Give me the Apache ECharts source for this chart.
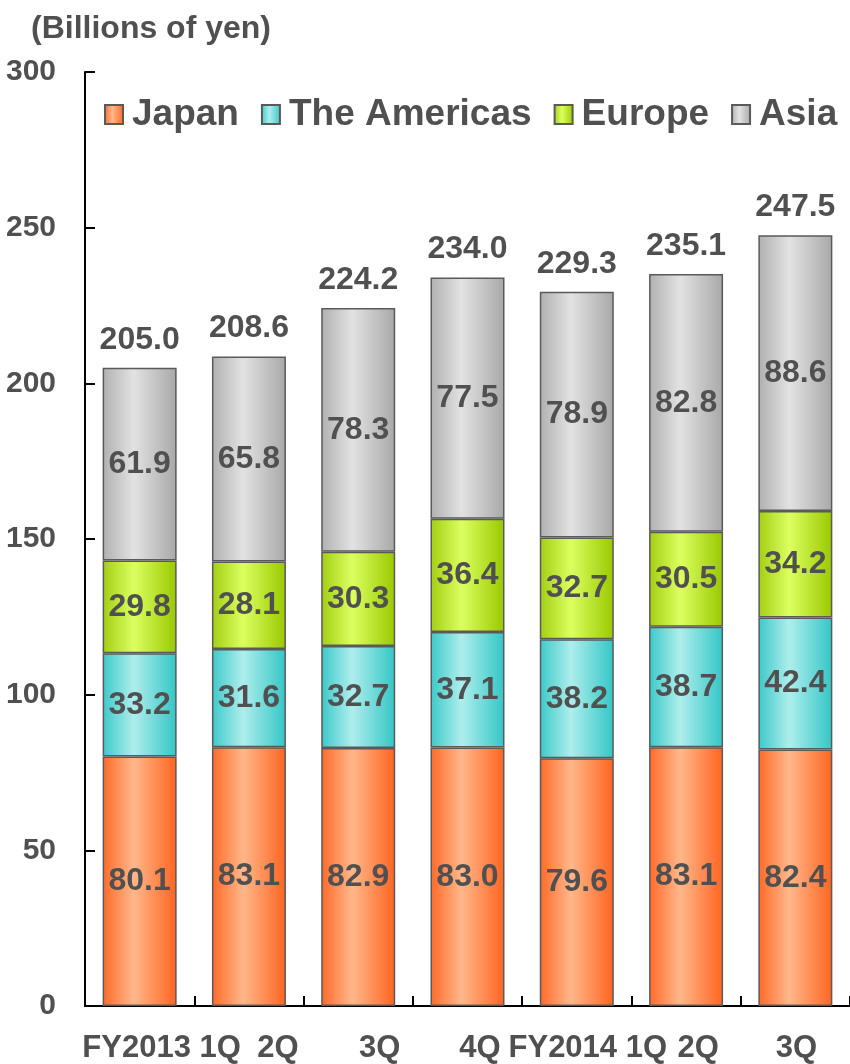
<!DOCTYPE html>
<html>
<head>
<meta charset="utf-8">
<script src="https://cdn.jsdelivr.net/npm/echarts@6/dist/echarts.min.js"></script>
<style>html,body{margin:0;padding:0;background:#fff}#c{width:850px;height:1064px}</style>
</head>
<body>
<div id="c"></div>
<script>
var categories = ['FY2013 1Q', '2Q', '3Q', '4Q', 'FY2014 1Q', '2Q', '3Q'];
var japan = [80.1, 83.1, 82.9, 83.0, 79.6, 83.1, 82.4];
var americas = [33.2, 31.6, 32.7, 37.1, 38.2, 38.7, 42.4];
var europe = [29.8, 28.1, 30.3, 36.4, 32.7, 30.5, 34.2];
var asia = [61.9, 65.8, 78.3, 77.5, 78.9, 82.8, 88.6];
var totals = [205.0, 208.6, 224.2, 234.0, 229.3, 235.1, 247.5];
var yTicks = [0, 50, 100, 150, 200, 250, 300];

var FONT = '"Liberation Sans", Arial, sans-serif';
var TXT = '#505050';
var labelShift = [44, 58, 43, 25, 22, 24, 2];

function grad(a, b, c) {
  return new echarts.graphic.LinearGradient(0, 0, 1, 0, [
    {offset: 0, color: a}, {offset: 0.42, color: b}, {offset: 1, color: c}
  ]);
}

function seg(name, data, color) {
  return {
    name: name, type: 'bar', stack: 'all', data: data, barWidth: 74,
    itemStyle: {color: color, borderColor: '#5a5a5a', borderWidth: 1.5},
    label: {show: true, position: 'inside', fontFamily: FONT, fontWeight: 'bold',
      fontSize: 32, color: TXT, formatter: function (p) { return p.value.toFixed(1); }},
    emphasis: {disabled: true}
  };
}

var rich = {};
labelShift.forEach(function (s, i) {
  rich['s' + i] = {padding: [0, 0, 0, s], fontFamily: FONT, fontWeight: 'bold', fontSize: 31, color: TXT};
});

var chart = echarts.init(document.getElementById('c'), null, {renderer: 'canvas'});
chart.setOption({
  animation: false,
  backgroundColor: '#fff',
  title: {text: '(Billions of yen)', left: 26, top: 8,
    textStyle: {fontFamily: FONT, fontWeight: 'bold', fontSize: 32, color: TXT}},
  legend: {
    data: ['Japan', 'The Americas', 'Europe', 'Asia'],
    left: 104, top: 96, width: 800, padding: 0, itemWidth: 18, itemHeight: 19, itemGap: 22,
    icon: 'rect',
    textStyle: {fontFamily: FONT, fontWeight: 'bold', fontSize: 37, color: TXT, padding: [0, 0, 0, 4]}
  },
  grid: {left: 85, top: 72, width: 768, height: 935, containLabel: false},
  xAxis: {
    type: 'category', data: categories,
    axisLine: {lineStyle: {color: '#000', width: 2}},
    axisTick: {show: true, inside: true, length: 10, alignWithLabel: false, lineStyle: {color: '#000', width: 2}},
    axisLabel: {margin: 27, interval: 0,
      formatter: function (v, i) { return '{s' + i + '|' + v + '}'; }, rich: rich}
  },
  yAxis: {
    type: 'value', min: yTicks[0], max: yTicks[yTicks.length - 1], interval: 50,
    splitLine: {show: false},
    axisLine: {show: true, lineStyle: {color: '#000', width: 2}},
    axisTick: {show: true, inside: true, length: 10, lineStyle: {color: '#000', width: 2}},
    axisLabel: {margin: 29, fontFamily: FONT, fontWeight: 'bold', fontSize: 30, color: TXT}
  },
  series: [
    seg('Japan', japan, grad('#FF6A28', '#FFB78A', '#FF6420')),
    seg('The Americas', americas, grad('#3CC9C9', '#AEEEEC', '#33C6C6')),
    seg('Europe', europe, grad('#A2CE12', '#DCFF60', '#99C800')),
    seg('Asia', asia, grad('#B0B0B0', '#E2E2E2', '#A8A8A8')),
    {
      name: 'Total', type: 'bar', stack: 'all', barWidth: 74,
      data: totals.map(function () { return 0; }),
      itemStyle: {color: 'rgba(0,0,0,0)', borderWidth: 0},
      label: {show: true, position: 'top', distance: 12, fontFamily: FONT, fontWeight: 'bold',
        fontSize: 32, color: TXT,
        formatter: function (p) { return totals[p.dataIndex].toFixed(1); }},
      emphasis: {disabled: true}
    }
  ]
});
</script>
</body>
</html>
